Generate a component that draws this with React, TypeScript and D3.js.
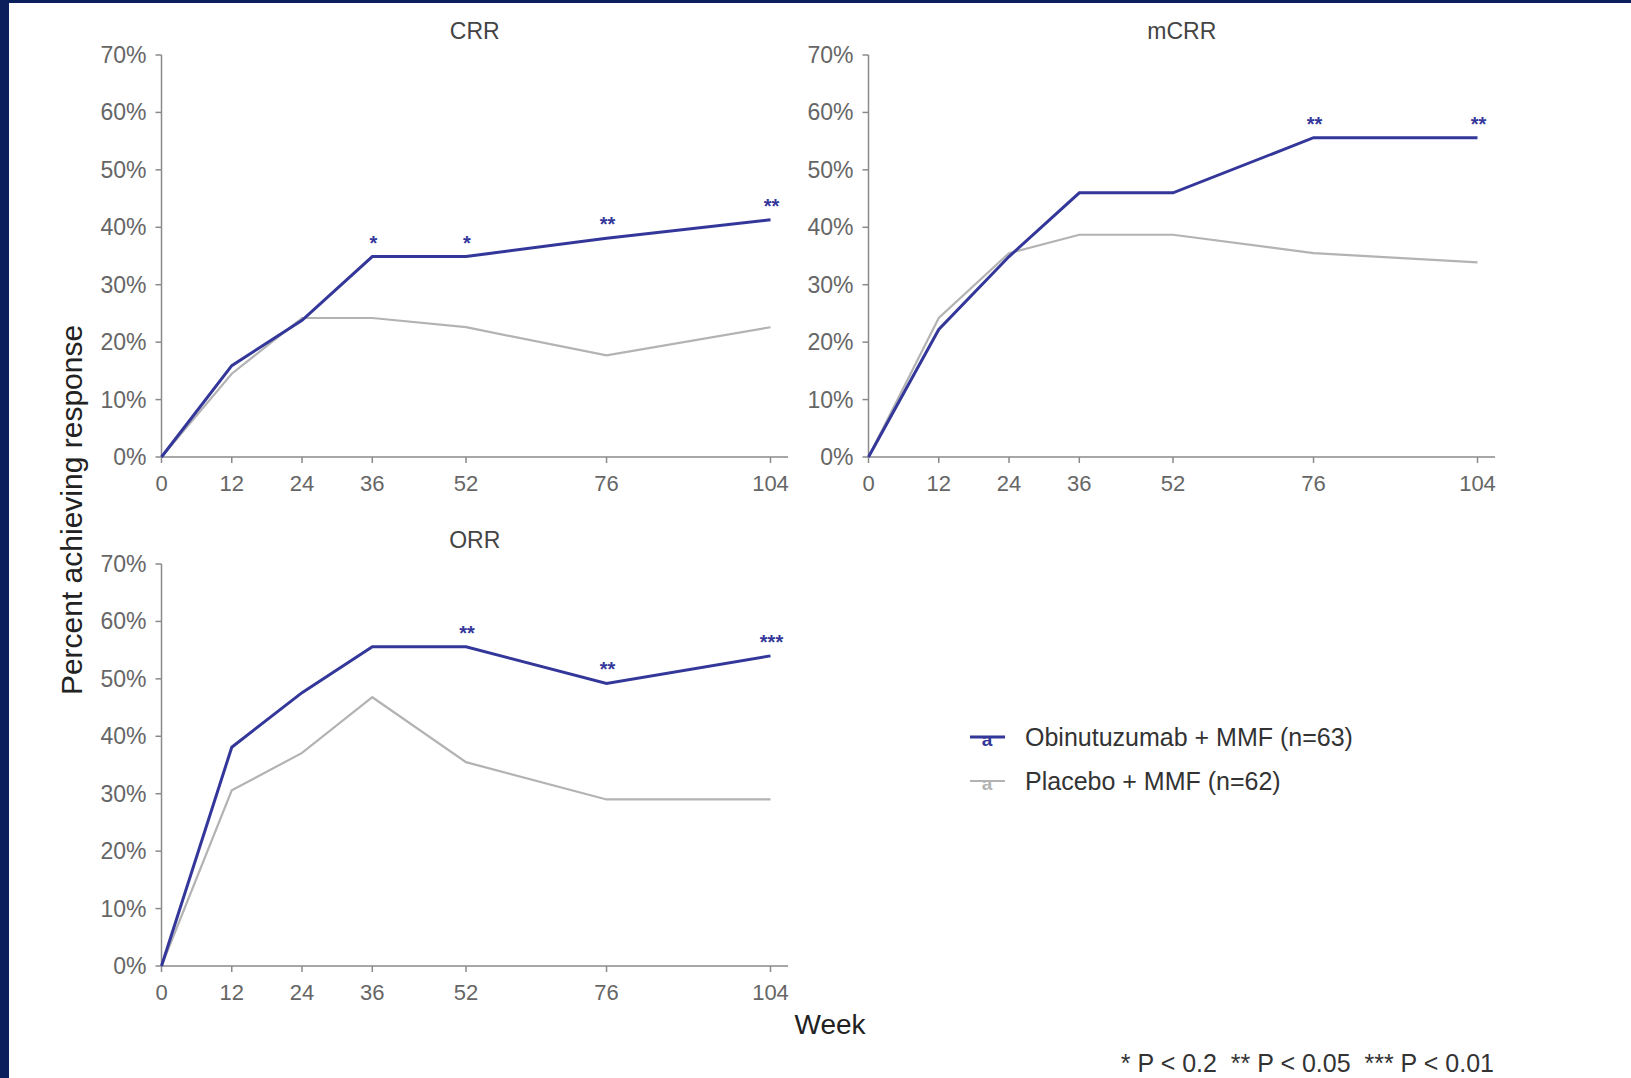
import React from 'react';
import * as d3 from 'd3';

const weeks = [0, 12, 24, 36, 52, 76, 104];
const yTicks = [0, 10, 20, 30, 40, 50, 60, 70];

const crrObin = [0, 15.9, 23.8, 34.9, 34.9, 38.1, 41.3];
const crrPlac = [0, 14.5, 24.2, 24.2, 22.6, 17.7, 22.6];
const crrStars = ['', '', '', '*', '*', '**', '**'];

const mcrrObin = [0, 22.2, 34.9, 46.0, 46.0, 55.6, 55.6];
const mcrrPlac = [0, 24.2, 35.5, 38.7, 38.7, 35.5, 33.9];
const mcrrStars = ['', '', '', '', '', '**', '**'];

const orrObin = [0, 38.1, 47.6, 55.6, 55.6, 49.2, 54.0];
const orrPlac = [0, 30.6, 37.1, 46.8, 35.5, 29.0, 29.0];
const orrStars = ['', '', '', '', '**', '**', '***'];

const seriesNames = ['Obinutuzumab + MMF (n=63)', 'Placebo + MMF (n=62)'];
const footnote = '* P < 0.2  ** P < 0.05  *** P < 0.01';

const W = 1631;
const H = 1078;
const BLUE = '#34379a';
const GRAY = '#b3b3b3';
const AXIS = '#8a8a8a';
const font = 'Liberation Sans, Arial, Helvetica, sans-serif';

const plotW = 609;
const plotH = 402;

const Panel = ({ title, ox, oy, obin, plac, stars }) => {
    const x = d3.scaleLinear().domain([0, 104]).range([ox, ox + plotW]);
    const y = d3.scaleLinear().domain([0, 70]).range([oy, oy - plotH]);
    const line = d3.line()
        .x((d, i) => x(weeks[i]))
        .y(d => y(d));
    const xEnd = x(107);

    return (
        <g>
            <text
                x={(ox + xEnd) / 2}
                y={y(70) - 16}
                textAnchor="middle"
                fontSize={23}
                fill="#444"
            >
                {title}
            </text>
            {/* y axis */}
            <line x1={ox} x2={ox} y1={y(0)} y2={y(70)} stroke={AXIS} strokeWidth={1.5} />
            {yTicks.map(t => (
                <g key={t}>
                    <line x1={ox - 6} x2={ox} y1={y(t)} y2={y(t)} stroke={AXIS} strokeWidth={1.5} />
                    <text
                        x={ox - 15}
                        y={y(t)}
                        textAnchor="end"
                        dominantBaseline="central"
                        fontSize={23}
                        fill="#666"
                    >
                        {t}%
                    </text>
                </g>
            ))}
            {/* x axis */}
            <line x1={ox} x2={xEnd} y1={oy} y2={oy} stroke={AXIS} strokeWidth={1.5} />
            {weeks.map(w => (
                <g key={w}>
                    <line x1={x(w)} x2={x(w)} y1={oy} y2={oy + 6} stroke={AXIS} strokeWidth={1.5} />
                    <text x={x(w)} y={oy + 34} textAnchor="middle" fontSize={22} fill="#666">
                        {w}
                    </text>
                </g>
            ))}
            <path d={line(plac)} fill="none" stroke={GRAY} strokeWidth={2.2} />
            <path d={line(obin)} fill="none" stroke={BLUE} strokeWidth={3} />
            {stars.map((s, i) => s && (
                <text
                    key={i}
                    x={x(weeks[i]) + 1}
                    y={y(obin[i]) - 7}
                    textAnchor="middle"
                    fontSize={20}
                    fontWeight="bold"
                    fill={BLUE}
                >
                    {s}
                </text>
            ))}
        </g>
    );
};

const App = () => {
    const legendY = [737, 781];
    const legendColors = [BLUE, GRAY];

    return (
        <div style={{ position: 'fixed', left: 0, top: 0 }}>
            <svg width={W} height={H} fontFamily={font} style={{ display: 'block' }}>
                <rect x={0} y={0} width={W} height={H} fill="#fff" />
                <rect x={0} y={0} width={W} height={3} fill="#0b1f5c" />
                <rect x={0} y={0} width={9} height={H} fill="#0b1f5c" />

                <Panel title="CRR" ox={161.5} oy={457} obin={crrObin} plac={crrPlac} stars={crrStars} />
                <Panel title="mCRR" ox={868.5} oy={457} obin={mcrrObin} plac={mcrrPlac} stars={mcrrStars} />
                <Panel title="ORR" ox={161.5} oy={966} obin={orrObin} plac={orrPlac} stars={orrStars} />

                <text
                    transform="translate(82, 510) rotate(-90)"
                    textAnchor="middle"
                    fontSize={30}
                    fill="#222"
                >
                    Percent achieving response
                </text>
                <text x={830} y={1034} textAnchor="middle" fontSize={28} fill="#222">
                    Week
                </text>

                {seriesNames.map((name, i) => (
                    <g key={name}>
                        <line
                            x1={970}
                            x2={1005}
                            y1={legendY[i]}
                            y2={legendY[i]}
                            stroke={legendColors[i]}
                            strokeWidth={i === 0 ? 3 : 2.2}
                        />
                        <text
                            x={987}
                            y={legendY[i] + 9}
                            textAnchor="middle"
                            fontSize={19}
                            fontWeight="bold"
                            fill={legendColors[i]}
                        >
                            a
                        </text>
                        <text
                            x={1025}
                            y={legendY[i]}
                            dominantBaseline="central"
                            fontSize={25}
                            fill="#333"
                        >
                            {name}
                        </text>
                    </g>
                ))}

                <text x={1494} y={1072} textAnchor="end" fontSize={25} fill="#333" style={{ whiteSpace: 'pre' }}>
                    {footnote}
                </text>
            </svg>
        </div>
    );
};

export default App;
